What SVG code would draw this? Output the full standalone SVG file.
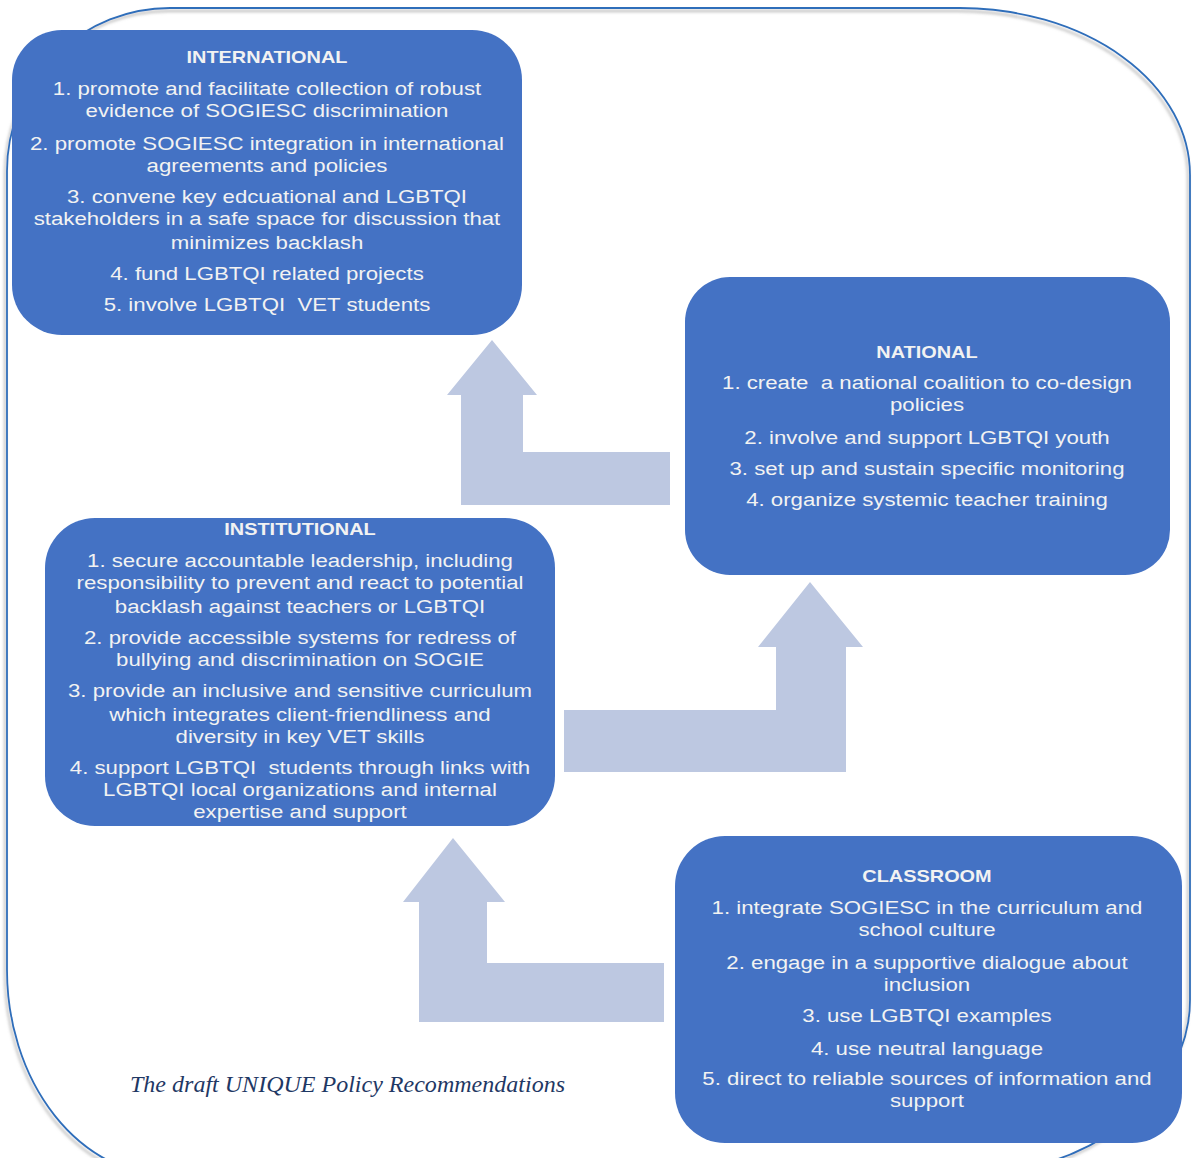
<svg xmlns="http://www.w3.org/2000/svg" width="1192" height="1158" viewBox="0 0 1192 1158">
<style>
.box{fill:#4472C4;}
.t{font-family:"Liberation Sans",Arial,sans-serif;font-size:19px;fill:#F2F2F2;text-anchor:middle;}
.h{font-family:"Liberation Sans",Arial,sans-serif;font-size:17px;font-weight:bold;fill:#F2F2F2;text-anchor:middle;}
.pre{white-space:pre;}
.arrow{fill:#BDC8E1;}
.cap{font-family:"Liberation Serif","Times New Roman",serif;font-style:italic;font-size:24px;fill:#1F3864;}
</style>
<defs>
<filter id="sh" x="-5%" y="-5%" width="110%" height="110%">
<feDropShadow dx="-2" dy="3" stdDeviation="1.5" flood-color="#808080" flood-opacity="0.6"/>
</filter>
</defs>
<rect width="1192" height="1158" fill="#FFFFFF"/>
<path id="frame" d="M170,8 H960 A230,167 0 0 1 1190,175 V1000 A230,176 0 0 1 960,1176 H170 A163,206 0 0 1 7,970 V171 A163,163 0 0 1 170,8 Z" fill="none" stroke="#2F6EBA" stroke-width="1.8" filter="url(#sh)"/>
<g id="connectors">
<polygon class="arrow" points="670,452 523,452 523,395 537,395 492,340 447,395 461,395 461,505 670,505"/>
<polygon class="arrow" points="564,710 776,710 776,647 758,647 810,582 863,647 846,647 846,772 564,772"/>
<polygon class="arrow" points="664,963 487,963 487,902 505,902 453,838 403,902 419,902 419,1022 664,1022"/>
</g>
<g id="international">
<rect class="box" x="12" y="30" width="510" height="305" rx="50"/>
<g transform="translate(267,0) scale(1.17,1) translate(-267,0)">
<text class="h" x="267" y="63">INTERNATIONAL</text>
<text class="t" x="267" y="95">1. promote and facilitate collection of robust</text>
<text class="t" x="267" y="117">evidence of SOGIESC discrimination</text>
<text class="t" x="267" y="150">2. promote SOGIESC integration in international</text>
<text class="t" x="267" y="172">agreements and policies</text>
<text class="t" x="267" y="203">3. convene key edcuational and LGBTQI</text>
<text class="t" x="267" y="225">stakeholders in a safe space for discussion that</text>
<text class="t" x="267" y="249">minimizes backlash</text>
<text class="t" x="267" y="280">4. fund LGBTQI related projects</text>
<text class="t pre" x="267" y="311">5. involve LGBTQI  VET students</text>
</g>
</g>
<g id="national">
<rect class="box" x="685" y="277" width="485" height="298" rx="45"/>
<g transform="translate(927,0) scale(1.17,1) translate(-927,0)">
<text class="h" x="927" y="358">NATIONAL</text>
<text class="t pre" x="927" y="389">1. create  a national coalition to co-design</text>
<text class="t" x="927" y="411">policies</text>
<text class="t" x="927" y="444">2. involve and support LGBTQI youth</text>
<text class="t" x="927" y="475">3. set up and sustain specific monitoring</text>
<text class="t" x="927" y="506">4. organize systemic teacher training</text>
</g>
</g>
<g id="institutional">
<rect class="box" x="45" y="518" width="510" height="308" rx="50"/>
<g transform="translate(300,0) scale(1.17,1) translate(-300,0)">
<text class="h" x="300" y="535">INSTITUTIONAL</text>
<text class="t" x="300" y="567">1. secure accountable leadership, including</text>
<text class="t" x="300" y="589">responsibility to prevent and react to potential</text>
<text class="t" x="300" y="613">backlash against teachers or LGBTQI</text>
<text class="t" x="300" y="644">2. provide accessible systems for redress of</text>
<text class="t" x="300" y="666">bullying and discrimination on SOGIE</text>
<text class="t" x="300" y="697">3. provide an inclusive and sensitive curriculum</text>
<text class="t" x="300" y="721">which integrates client-friendliness and</text>
<text class="t" x="300" y="743">diversity in key VET skills</text>
<text class="t pre" x="300" y="774">4. support LGBTQI  students through links with</text>
<text class="t" x="300" y="796">LGBTQI local organizations and internal</text>
<text class="t" x="300" y="818">expertise and support</text>
</g>
</g>
<g id="classroom">
<rect class="box" x="675" y="836" width="507" height="307" rx="50"/>
<g transform="translate(927,0) scale(1.17,1) translate(-927,0)">
<text class="h" x="927" y="882">CLASSROOM</text>
<text class="t" x="927" y="914">1. integrate SOGIESC in the curriculum and</text>
<text class="t" x="927" y="936">school culture</text>
<text class="t" x="927" y="969">2. engage in a supportive dialogue about</text>
<text class="t" x="927" y="991">inclusion</text>
<text class="t" x="927" y="1022">3. use LGBTQI examples</text>
<text class="t" x="927" y="1055">4. use neutral language</text>
<text class="t" x="927" y="1085">5. direct to reliable sources of information and</text>
<text class="t" x="927" y="1107">support</text>
</g>
</g>
<text class="cap" x="130" y="1092" textLength="435" lengthAdjust="spacingAndGlyphs">The draft UNIQUE Policy Recommendations</text>
</svg>
